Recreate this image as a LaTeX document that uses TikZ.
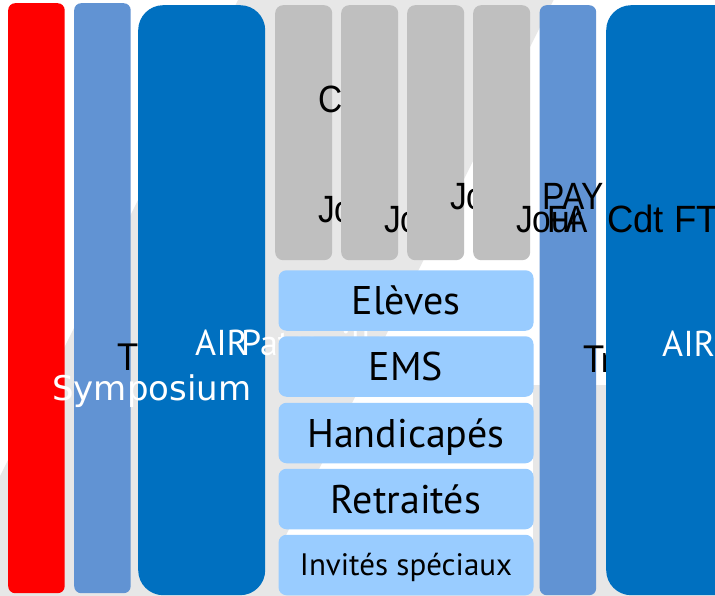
\documentclass[tikz,border=0pt]{standalone}
\usepackage{fontspec}
\newfontfamily\dinfont{PT Sans}
\newfontfamily\blkfont[FakeStretch=0.88]{Liberation Sans}
\newfontfamily\blkwfont[FakeStretch=0.96]{Liberation Sans}
\newfontfamily\dvfont{DejaVu Sans}
\definecolor{bgrey}{HTML}{E7E7E7}
\definecolor{cred}{HTML}{FF0000}
\definecolor{clblue}{HTML}{6193D3}
\definecolor{cdblue}{HTML}{0070C0}
\definecolor{cgrey}{HTML}{BFBFBF}
\definecolor{cbox}{HTML}{99CCFF}
\begin{document}
\begin{tikzpicture}[x=1pt,y=-1pt,
  bar/.style={fill=#1, draw=none, inner sep=0pt, anchor=north west, rounded corners=7pt},
  bigbar/.style={fill=#1, draw=none, inner sep=0pt, anchor=north west, rounded corners=25pt},
  gcol/.style={fill=cgrey, draw=none, inner sep=0pt, anchor=north west, rounded corners=8pt, minimum width=57pt, minimum height=255pt},
  pbox/.style={fill=cbox, draw=none, inner sep=0pt, rounded corners=8pt, minimum width=255pt, minimum height=60.5pt, text height=28pt, text depth=0pt, font=\dinfont\fontsize{40}{40}\selectfont},
  btxt/.style={inner sep=0pt, anchor=base west, font=\blkfont\fontsize{38}{38}\selectfont, text=black},
  ttxt/.style={inner sep=0pt, anchor=base west, font=\dinfont\fontsize{38}{38}\selectfont, text=black},
  wtxt/.style={inner sep=0pt, anchor=base west, font=\dinfont\fontsize{36}{36}\selectfont, text=white},
]
\useasboundingbox (0,0) rectangle (715,596);
\clip (0,0) rectangle (715,596);
% background
\fill[white] (0,0) rectangle (715,596);
\fill[bgrey] (238,0) -- (553.5,0) -- (255.5,596) -- (0,596) -- (0,476) -- cycle;
\fill[bgrey] (533,385) rectangle (715,596);
\fill[bgrey] (0,546) rectangle (715,596);
% left columns
\node[bar=cred, minimum width=56.5pt, minimum height=590pt] (red) at (8,3) {};
\node[bar=clblue, minimum width=56.5pt, minimum height=590pt] (lb1) at (74,3) {};
\node[ttxt] (t1) at (117,370) {T};
\node[bigbar=cdblue, minimum width=127pt, minimum height=590pt] (db1) at (138,5) {};
\node[wtxt] (air1) at (195,355) {AIR};
\node[wtxt] (pa1) at (241,355) {Patrouille};
\node[inner sep=0pt, anchor=base west, font=\dvfont\fontsize{34}{34}\selectfont, text=white] (symp) at (52,400) {Symposium};
% right columns
\node[bar=clblue, minimum width=56.5pt, minimum height=590pt] (lb2) at (539.5,5) {};
\node[ttxt] (t2) at (583,372) {Tr};
\node[bigbar=cdblue, minimum width=140pt, minimum height=590pt] (db2) at (606,5) {};
\node[wtxt] (air2) at (662,356) {AIRP};
% grey columns
\node[gcol] (g1) at (275,5) {};
\node[btxt] (c1) at (318,113) {C};
\node[btxt] (j1) at (318,223) {Jo};
\node[gcol] (g2) at (341,5) {};
\node[btxt] (j2) at (384,233) {Jo};
\node[gcol] (g3) at (407,5) {};
\node[btxt] (j3) at (450,210) {Jo};
\node[gcol] (g4) at (473,5) {};
\node[btxt] (j4) at (516,233) {Jour};
\node[btxt, font=\blkwfont\fontsize{38}{38}\selectfont] (cdt) at (607,233) {Cdt FT};
\node[btxt] (pay) at (542,210) {PAY};
\node[btxt] (fa) at (547,233) {FA};
% boxes
\node[pbox] (b1) at (406,300.5) {Elèves};
\node[pbox] (b2) at (406,366.5) {EMS};
\node[pbox] (b3) at (406,433) {Handicapés};
\node[pbox] (b4) at (406,499) {Retraités};
\node[pbox, text height=21pt, font=\dinfont\fontsize{31}{31}\selectfont] (b5) at (406,565) {Invités spéciaux};
\end{tikzpicture}
\end{document}
